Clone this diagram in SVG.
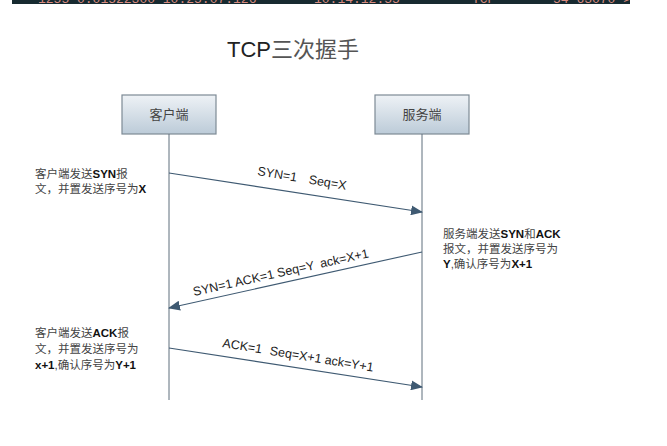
<svg xmlns="http://www.w3.org/2000/svg" width="667" height="446" viewBox="0 0 667 446">
<style>
.box{stroke:#7d8a95;stroke-width:1.2;fill:url(#g)}
.lbl{font-family:"Liberation Sans","Noto Sans CJK SC",sans-serif;font-size:13px;fill:#444;text-anchor:middle}
.life{stroke:#5f6f7c;stroke-width:1;fill:none}
.msg{stroke:#3f5a72;stroke-width:1.1;fill:none;marker-end:url(#ah)}
.ml{font-family:"Liberation Sans",Arial,sans-serif;font-size:12.5px;fill:#222}
.note{font-family:"Liberation Sans","Noto Sans CJK SC",sans-serif;font-size:11.5px;fill:#444}
.note tspan.l{fill:#111;font-weight:bold}
.title{font-family:"Liberation Sans","Noto Sans CJK SC",sans-serif;font-size:22px;fill:#222}
</style>
<defs>
<linearGradient id="g" x1="0" y1="0" x2="0" y2="1">
<stop offset="0" stop-color="#eef2f6"/>
<stop offset="1" stop-color="#bccbd8"/>
</linearGradient>
<marker id="ah" markerWidth="12" markerHeight="10" refX="11" refY="5" orient="auto" markerUnits="userSpaceOnUse">
<path d="M0,0 L12,5 L0,10 Z" fill="#3f5a72"/>
</marker>
<clipPath id="bar"><rect x="12" y="0" width="618" height="4"/></clipPath>
</defs>
<rect width="667" height="446" fill="#fff"/>
<g id="topbar">
<rect x="12" y="0" width="618" height="4" fill="#172a30"/>
<g clip-path="url(#bar)" font-family="Liberation Mono,monospace" font-size="13" fill="#d88a80">
<text x="38" y="3">1255 0.01522300 10.25.07.126</text>
<text x="314" y="3">10.14.12.55</text>
<text x="472" y="3">TCP</text>
<text x="553" y="3">54 63070 &gt;</text>
</g>
</g>
<text class="title" x="227" y="57">TCP<tspan fill="#555">三次握手</tspan></text>
<g id="client">
<rect class="box" x="122" y="95" width="94" height="39"/>
<text class="lbl" x="169" y="119">客户端</text>
</g>
<g id="server">
<rect class="box" x="375" y="95" width="94" height="39"/>
<text class="lbl" x="422" y="119">服务端</text>
</g>
<g id="connectors">
<line class="life" x1="169" y1="134" x2="169" y2="400"/>
<line class="life" x1="422" y1="134" x2="422" y2="400"/>
<line class="msg" x1="169" y1="173" x2="422" y2="212"/>
<line class="msg" x1="422" y1="252" x2="169" y2="308"/>
<line class="msg" x1="169" y1="348" x2="422" y2="387"/>
<text class="ml" transform="translate(257,175) rotate(9.5)">SYN=1<tspan dx="12">Seq=X</tspan></text>
<text class="ml" transform="translate(194,296) rotate(-12.5)">SYN=1 ACK=1 Seq=Y<tspan dx="7">ack=X+1</tspan></text>
<text class="ml" transform="translate(222,347) rotate(9.3)">ACK=1<tspan dx="8">Seq=X+1 ack=Y+1</tspan></text>
</g>
<g id="note1">
<text class="note" x="35" y="178">客户端发送<tspan class="l">SYN</tspan>报</text>
<text class="note" x="35" y="193">文，并置发送序号为<tspan class="l">X</tspan></text>
</g>
<g id="note2">
<text class="note" x="443" y="238">服务端发送<tspan class="l">SYN</tspan>和<tspan class="l">ACK</tspan></text>
<text class="note" x="443" y="253">报文，并置发送序号为</text>
<text class="note" x="443" y="268"><tspan class="l">Y</tspan>,确认序号为<tspan class="l">X+1</tspan></text>
</g>
<g id="note3">
<text class="note" x="35" y="337">客户端发送<tspan class="l">ACK</tspan>报</text>
<text class="note" x="35" y="353">文，并置发送序号为</text>
<text class="note" x="35" y="369"><tspan class="l">x+1</tspan>,确认序号为<tspan class="l">Y+1</tspan></text>
</g>
</svg>
